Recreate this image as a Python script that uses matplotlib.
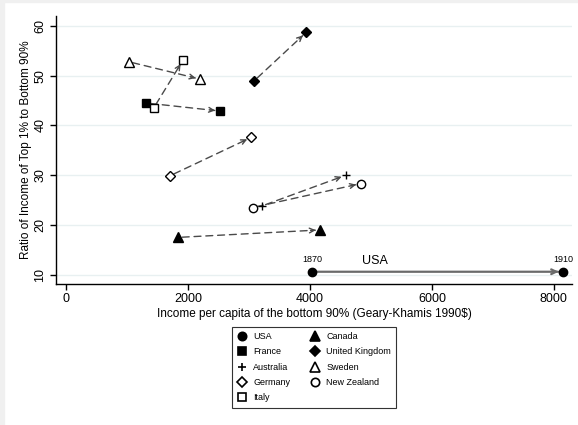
import matplotlib.pyplot as plt
import numpy as np
from matplotlib.lines import Line2D
from matplotlib.patches import Rectangle

plt.rcParams['font.family'] = ['Liberation Sans', 'DejaVu Sans']

# pais: (ingreso inicial, ratio inicial) -> (ingreso final, ratio final)
paises = ['USA', 'France', 'Australia', 'Germany', 'Italy',
          'Canada', 'United Kingdom', 'Sweden', 'New Zealand']
x_ini = [4040, 1320, 3210, 1710, 1440, 1840, 3090, 1030, 3060]
y_ini = [10.6, 44.5, 23.8, 29.9, 43.5, 17.5, 49.0, 52.8, 23.5]
x_fin = [8150, 2520, 4590, 3040, 1920, 4170, 3940, 2200, 4830]
y_fin = [10.6, 42.9, 30.0, 37.6, 53.1, 19.0, 58.7, 49.3, 28.3]
anios = ['1870', '1910']

# estilo de marcador para cada pais
marcadores = {'USA': ('o', 'k'), 'France': ('s', 'k'), 'Australia': ('+', 'k'),
              'Germany': ('D', 'w'), 'Italy': ('s', 'w'), 'Canada': ('^', 'k'),
              'United Kingdom': ('D', 'k'), 'Sweden': ('^', 'w'),
              'New Zealand': ('o', 'w')}
tam = {'o': 6, 's': 6, '+': 6, 'D': 5.5, '^': 6.5}

fig = plt.figure(figsize=(5.78, 4.25), dpi=100)
fig.patch.set_facecolor('white')
# borde gris claro arriba e izquierda
fig.patches.append(Rectangle((0, 0), 0.007, 1, transform=fig.transFigure,
                             color='#f0f0f0', zorder=0))
fig.patches.append(Rectangle((0, 0.995), 1, 0.005, transform=fig.transFigure,
                             color='#f0f0f0', zorder=0))

ax = fig.add_axes([0.097, 0.3325, 0.893, 0.63])
ax.set_xlim(-160, 8300)
ax.set_ylim(8.2, 62)
ax.set_xticks(np.arange(0, 8001, 2000))
ax.set_yticks(np.arange(10, 61, 10))
ax.yaxis.grid(True, color='#e8f0f1', lw=1)
ax.set_axisbelow(True)
for s in ['top', 'right']:
    ax.spines[s].set_visible(False)
for s in ['left', 'bottom']:
    ax.spines[s].set_linewidth(1)
ax.tick_params(labelsize=9, length=4, width=1, pad=3)
plt.setp(ax.get_yticklabels(), rotation=90, va='center')
ax.set_xlabel('Income per capita of the bottom 90% (Geary-Khamis 1990$)', fontsize=8.5, labelpad=2)
ax.set_ylabel('Ratio of Income of Top 1% to Bottom 90%', fontsize=8.5, labelpad=2)


def flecha(x0, y0, x1, y1, color, ls, lw):
    # linea (discontinua o no) + punta de flecha solida
    ax.annotate('', xy=(x1, y1), xytext=(x0, y0),
                arrowprops=dict(arrowstyle='-', linestyle=ls, color=color, lw=lw,
                                shrinkA=3, shrinkB=3.5), zorder=2)
    p0 = ax.transData.transform((x0, y0))
    p1 = ax.transData.transform((x1, y1))
    d = (p1 - p0) / np.hypot(*(p1 - p0))
    ax.annotate('', xy=(x1, y1), xytext=(-d[0] * 7, -d[1] * 7), textcoords='offset points',
                arrowprops=dict(arrowstyle='->,head_length=0.35,head_width=0.17',
                                color=color, lw=lw, shrinkA=0, shrinkB=3.2), zorder=2)


handles = []
for i, p in enumerate(paises):
    m, fc = marcadores[p]
    if p == 'USA':
        flecha(x_ini[i], y_ini[i], x_fin[i], y_fin[i], '#6a6a6a', '-', 1.6)
    else:
        flecha(x_ini[i], y_ini[i], x_fin[i], y_fin[i], '#4a4a4a', (0, (5, 3.5)), 1.0)
    ax.plot([x_ini[i], x_fin[i]], [y_ini[i], y_fin[i]], ls='none', marker=m,
            ms=tam[m], mfc=fc, mec='k', mew=1, zorder=3)
    handles.append(Line2D([], [], ls='none', marker=m, ms=tam[m], mfc=fc,
                          mec='k', mew=1.2, label=p))

# etiquetas de la serie de USA
iu = paises.index('USA')
ax.text(x_ini[iu], y_ini[iu] + 1.6, anios[0], fontsize=6.5, ha='center', va='bottom')
ax.text(x_fin[iu], y_fin[iu] + 1.6, anios[1], fontsize=6.5, ha='center', va='bottom')
ax.text(5070, y_ini[iu] + 1.0, 'USA', fontsize=9, ha='center', va='bottom')

fig.legend(handles=handles, ncol=2, loc='upper center', bbox_to_anchor=(0.544, 0.242),
           fontsize=6.5, frameon=True, fancybox=False, edgecolor='#333333',
           framealpha=1, borderpad=0.6, labelspacing=0.7, columnspacing=2.3,
           handletextpad=0.7, handlelength=1.0).get_frame().set_linewidth(0.8)

fig.savefig('out.png', dpi=100)
